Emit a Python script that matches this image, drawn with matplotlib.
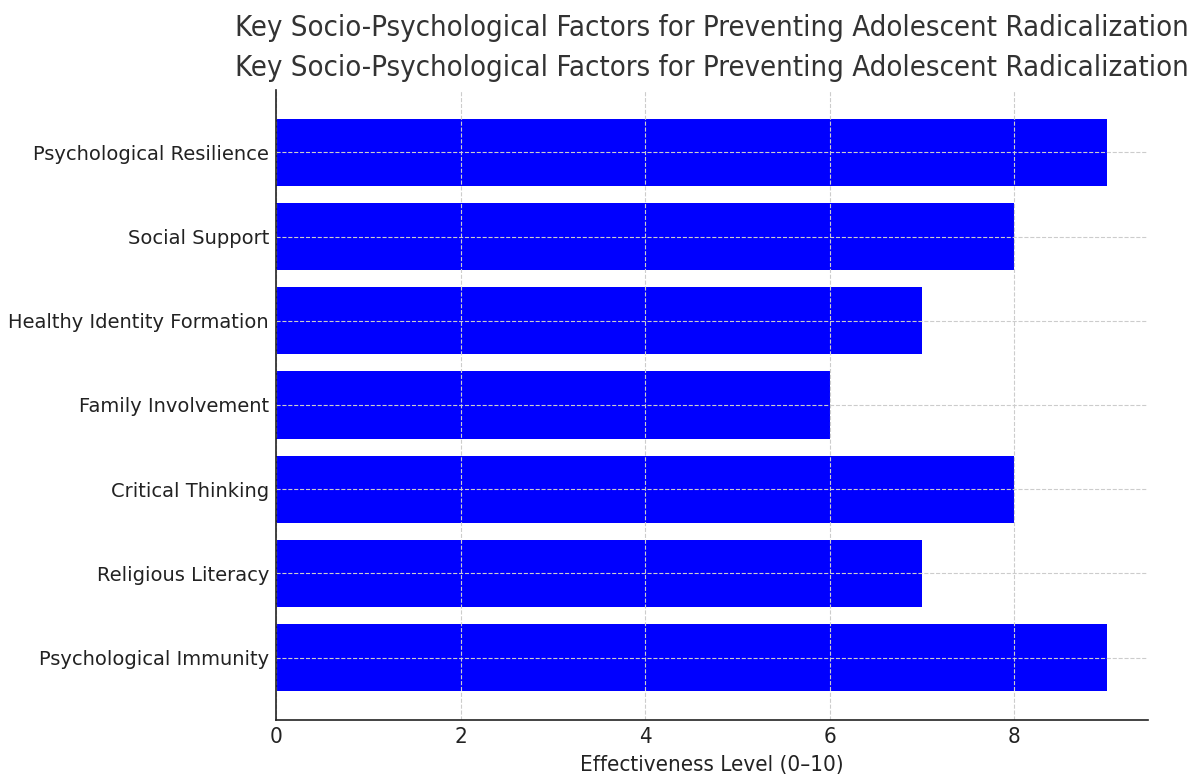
import matplotlib
matplotlib.use("Agg")
import matplotlib.pyplot as plt

factors = [
    "Psychological Immunity",
    "Religious Literacy",
    "Critical Thinking",
    "Family Involvement",
    "Healthy Identity Formation",
    "Social Support",
    "Psychological Resilience",
]
effectiveness = [9, 7, 8, 6, 7, 8, 9]
title_text = "Key Socio-Psychological Factors for Preventing Adolescent Radicalization"
xlabel_text = "Effectiveness Level (0\u201310)"

plt.rcParams['font.family'] = ['DejaVu Sans']

fig = plt.figure(figsize=(11.96, 7.76), dpi=100)
ax = fig.add_axes([0.2308, 0.0722, 0.9599 - 0.2308, 0.884 - 0.0722])

ax.barh(factors, effectiveness, color="#0000FF", height=0.8)
ax.grid(True, linestyle="--", color="#cccccc", linewidth=0.8)
ax.set_axisbelow(False)

for s in ["top", "right"]:
    ax.spines[s].set_visible(False)
for s in ["left", "bottom"]:
    ax.spines[s].set_color("#222222")
    ax.spines[s].set_linewidth(1.2)
    ax.spines[s].set_zorder(5)

ax.tick_params(axis="y", length=0, labelsize=14, colors="#222222", pad=5)
ax.tick_params(axis="x", length=0, labelsize=16, colors="#222222", pad=5)
for lab in ax.get_xticklabels():
    lab.set_fontstretch("condensed")
ax.set_xlabel(xlabel_text, fontsize=16, color="#222222", labelpad=6,
              fontstretch="condensed")

fig.text(0.5953, 1 - 28 / 776, title_text, ha="center", va="center",
         fontsize=21, color="#333333", fontstretch="condensed")
fig.text(0.5953, 1 - 68 / 776, title_text, ha="center", va="center",
         fontsize=21, color="#333333", fontstretch="condensed")

fig.savefig("out.png", dpi=100)
